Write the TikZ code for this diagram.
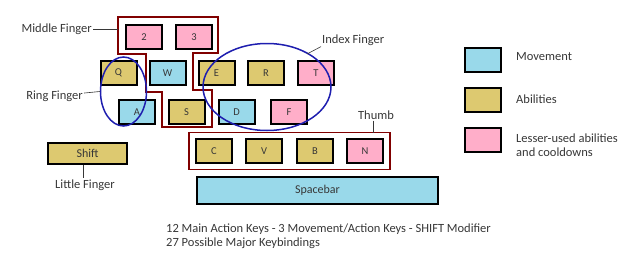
\documentclass[tikz,border=0pt]{standalone}
\usepackage{fontspec}
\setmainfont{Carlito}
\usepackage{tikz}
\usetikzlibrary{fit,shapes.geometric}
\definecolor{kbblue}{RGB}{153,217,234}
\definecolor{kbgold}{RGB}{221,201,112}
\definecolor{kbpink}{RGB}{255,174,201}
\definecolor{kbmaroon}{RGB}{128,0,0}
\definecolor{kbring}{RGB}{30,30,175}
\definecolor{kbtext}{RGB}{55,55,55}
\tikzset{
  kbkey/.style={draw=black, line width=2pt, minimum width=36pt, minimum height=24pt, inner sep=0pt, font=\fontsize{10.5}{12}\selectfont, text=kbtext},
  kbmove/.style={kbkey, fill=kbblue},
  kbabil/.style={kbkey, fill=kbgold},
  kbless/.style={kbkey, fill=kbpink},
  kbgroup/.style={draw=kbmaroon, line width=1.6pt},
  kbfinger/.style={draw=kbring, line width=1.5pt},
  kblabel/.style={font=\fontsize{12.5}{14}\selectfont, text=kbtext, inner sep=1pt},
  kbleader/.style={draw=kbtext, line width=.6pt}
}
\begin{document}
\begin{tikzpicture}[x=1pt, y=-1pt]
  \useasboundingbox (0,0) rectangle (640,268);
  % middle finger outline
  \draw[kbgroup] (118,17) -- (218,17) -- (218,53) -- (193,53) -- (193,90) -- (212,90)
    -- (212,127) -- (162,127) -- (162,92) -- (146,92) -- (146,54) -- (118,54) -- cycle;
  % keys
  \node[kbless] (k2) at (144,37) {2};
  \node[kbless] (k3) at (194,37) {3};
  \node[kbabil] (kq) at (118.5,73) {Q};
  \node[kbmove] (kw) at (167.5,73) {W};
  \node[kbabil] (ke) at (216.5,73) {E};
  \node[kbabil] (kr) at (266,73) {R};
  \node[kbless] (kt) at (316,73) {T};
  \node[kbmove] (ka) at (137,112) {A};
  \node[kbabil] (ks) at (186.5,112) {S};
  \node[kbmove] (kd) at (236.5,112) {D};
  \node[kbless] (kf) at (289,112) {F};
  \node[kbabil] (kc) at (214,151) {C};
  \node[kbabil] (kv) at (264,151) {V};
  \node[kbabil] (kb) at (315,151) {B};
  \node[kbless] (kn) at (365,151) {N};
  \node[kbabil, minimum width=79pt, minimum height=21pt, font=\fontsize{12}{14}\selectfont] (shift) at (87.5,153.5) {Shift};
  \node[kbmove, minimum width=241pt, minimum height=27pt, font=\fontsize{12}{14}\selectfont] (space) at (317.5,190.5) {Spacebar};
  % thumb outline
  \node[kbgroup, fit=(kc)(kn), inner xsep=6pt, inner ysep=5.5pt] (thumb) {};
  % finger ellipses
  \node[kbfinger, ellipse, minimum width=46pt, minimum height=69pt] (ring) at (123.5,91.5) {};
  \node[kbfinger, ellipse, minimum width=128pt, minimum height=87pt] (index) at (267,87) {};
  % labels
  \node[kblabel, anchor=east] (lmiddle) at (93,29) {Middle Finger};
  \node[kblabel, anchor=east] (lring) at (84,96) {Ring Finger};
  \node[kblabel, anchor=west] (lindex) at (321,40) {Index Finger};
  \node[kblabel] (lthumb) at (376,115) {Thumb};
  \node[kblabel] (llittle) at (85,185) {Little Finger};
  \coordinate (cmiddle) at (118,29);
  \coordinate (cindex) at (307,54);
  \coordinate (cthumb) at (373,133);
  \draw[kbleader] (lmiddle) -- (cmiddle);
  \draw[kbleader] (lring) -- (ring.west);
  \draw[kbleader] (lindex.south west) -- (cindex);
  \draw[kbleader] (lthumb.south -| cthumb) -- (cthumb);
  \draw[kbleader] (shift.south) ++(-4,0) coordinate (cshift) -- (llittle.north -| cshift);
  % legend
  \node[kbmove] (gmove) at (482.5,60) {};
  \node[kbabil] (gabil) at (482.5,100) {};
  \node[kbless] (gless) at (482.5,139.5) {};
  \node[kblabel, anchor=west] at (515,57) {Movement};
  \node[kblabel, anchor=west] at (515,99) {Abilities};
  \node[kblabel, anchor=west, align=left] at (515,145) {Lesser-used abilities\\and cooldowns};
  % summary
  \node[kblabel, anchor=west, align=left] (summary) at (165,236)
    {12 Main Action Keys - 3 Movement/Action Keys - SHIFT Modifier\\27 Possible Major Keybindings};
\end{tikzpicture}
\end{document}
